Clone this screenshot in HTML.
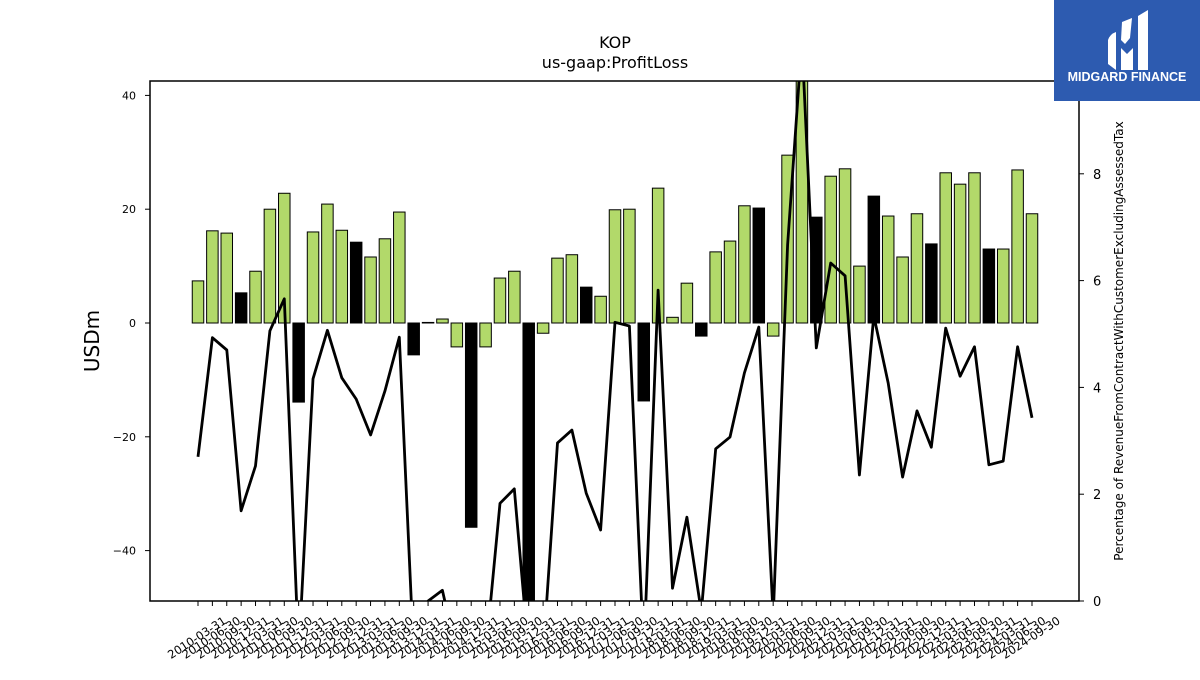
<!DOCTYPE html>
<html><head><meta charset="utf-8"><style>
body{margin:0;background:#fff;width:1200px;height:675px;overflow:hidden;font-family:"Liberation Sans","DejaVu Sans",sans-serif;}
svg text{font-family:"DejaVu Sans","Liberation Sans",sans-serif;}
</style></head><body>
<svg id="chart" width="1200" height="675" xmlns="http://www.w3.org/2000/svg">
<defs><clipPath id="plotclip"><rect x="150" y="81" width="929" height="520"/></clipPath></defs>
<text x="615" y="48" text-anchor="middle" font-size="16">KOP</text>
<text x="615" y="68" text-anchor="middle" font-size="16">us-gaap:ProfitLoss</text>
<g id="bars" clip-path="url(#plotclip)"></g>
<g id="line" clip-path="url(#plotclip)"></g>
<rect x="150" y="81" width="929" height="520" fill="none" stroke="#000" stroke-width="1.5"/>
<g id="axes"></g>
<text transform="translate(99,341) rotate(-90)" text-anchor="middle" font-size="20">USDm</text>
<text transform="translate(1123,341) rotate(-90)" text-anchor="middle" font-size="12">Percentage of RevenueFromContractWithCustomerExcludingAssessedTax</text>
<g>
<rect x="1054" y="0" width="146" height="101" fill="#2d5bb0"/>
<path d="M1108 40 Q1110 34 1116 32 L1116 70 L1108 64 Z" fill="#fff"/>
<path d="M1122 22 L1132 18 L1130 38 L1125 44 L1121 40 Z" fill="#fff"/>
<path d="M1121 48 L1127 54 L1133 48 L1133 70 L1121 70 Z" fill="#fff"/>
<path d="M1138 16 L1148 10 L1148 70 L1138 70 Z" fill="#fff"/>
<text x="1127" y="81" text-anchor="middle" font-size="12.5" font-weight="bold" fill="#fff" style="font-family:'Liberation Sans',sans-serif">MIDGARD FINANCE</text>
</g>
</svg>
<script>
const categories=[];
for(let y=2010;y<=2024;y++){for(const q of ["03-31","06-30","09-30","12-31"]){if(y===2024&&q==="12-31")break;categories.push(y+"-"+q);}}
const profitLoss=[7.4,16.2,15.8,5.3,9.1,20,22.8,-13.9,16,20.9,16.3,14.2,11.6,14.8,19.5,-5.6,0.1,0.7,-4.2,-35.9,-4.2,7.9,9.1,-50,-1.8,11.4,12,6.3,4.7,19.9,20,-13.7,23.7,1,7,-2.3,12.5,14.4,20.6,20.2,-2.3,29.5,45,18.6,25.8,27.1,10,22.3,18.8,11.6,19.2,13.9,26.4,24.4,26.4,13,13,26.9,19.2];
const barIsBlack=[0,0,0,1,0,0,0,1,0,0,0,1,0,0,0,1,1,0,0,1,0,0,0,1,0,0,0,1,0,0,0,1,0,0,0,1,0,0,0,1,0,0,0,1,0,0,0,1,0,0,0,1,0,0,0,1,0,0,0];
const percentRevenue=[2.7,4.93,4.7,1.69,2.53,5.06,5.66,-1,4.16,5.07,4.18,3.78,3.11,3.93,4.94,-1,0,0.2,-1,-1,-1,1.83,2.1,-1,-1,2.96,3.2,2.02,1.33,5.22,5.15,-1,5.82,0.24,1.57,-0.2,2.85,3.07,4.27,5.13,-0.3,6.67,10.5,4.74,6.33,6.09,2.36,5.34,4.08,2.32,3.56,2.88,5.11,4.21,4.76,2.55,2.62,4.76,3.43];
const leftTicks=[40,20,0,-20,-40];
const rightTicks=[0,2,4,6,8];
const NS="http://www.w3.org/2000/svg";
const xPos=i=>198+i*(1032-198)/(categories.length-1);
const yL=v=>323-v*5.69;
const yR=v=>601-v*53.4;
const bw=11.5;
const bars=document.getElementById('bars'),line=document.getElementById('line'),axes=document.getElementById('axes');
function mk(tag,attrs,parent){const e=document.createElementNS(NS,tag);for(const k in attrs)e.setAttribute(k,attrs[k]);parent.appendChild(e);return e;}
profitLoss.forEach((v,i)=>{
  const y0=yL(0),y1=yL(v);
  const r=mk('rect',{x:xPos(i)-bw/2,y:Math.min(y0,y1),width:bw,height:Math.max(Math.abs(y1-y0),0.5),fill:barIsBlack[i]?'#000':'#b2d96a',stroke:'#000','stroke-width':1},bars);
  
  
});
const pts=percentRevenue.map((v,i)=>xPos(i).toFixed(1)+','+yR(v).toFixed(1)).join(' ');
const pl=mk('polyline',{points:pts,fill:'none',stroke:'#000','stroke-width':2.8,'stroke-linejoin':'round'},line);


leftTicks.forEach(t=>{
  const y=yL(t);
  mk('line',{x1:145,x2:150,y1:y,y2:y,stroke:'#000'},axes);
  const tx=mk('text',{x:136,y:y+4,'text-anchor':'end','font-size':11},axes);tx.textContent=t===0?'0':(t<0?'\u2212'+(-t):t);
  
  
});
rightTicks.forEach(t=>{
  const y=yR(t);
  mk('line',{x1:1079,x2:1084,y1:y,y2:y,stroke:'#000'},axes);
  const tx=mk('text',{x:1093,y:y+5,'font-size':13},axes);tx.textContent=t;
  
  
});
categories.forEach((c,i)=>{
  const x=xPos(i);
  mk('line',{x1:x,x2:x,y1:601,y2:606,stroke:'#000'},axes);
  const tx=mk('text',{transform:`translate(${x+1},${641}) rotate(-33)`,'text-anchor':'middle','font-size':11.5},axes);tx.textContent=c;
  
  
});
</script>
</body></html>
